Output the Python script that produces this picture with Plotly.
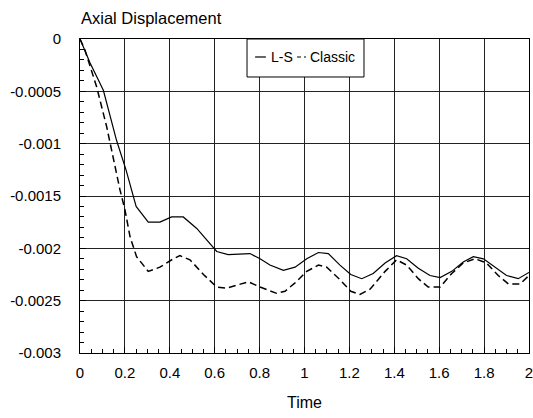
import plotly.graph_objects as go

t_ls = [0, 0.045, 0.104, 0.163, 0.205, 0.25, 0.304, 0.356, 0.408, 0.46, 0.52, 0.564, 0.609, 0.66,
        0.757, 0.802, 0.846, 0.906, 0.958, 1.01, 1.062, 1.106, 1.158, 1.206, 1.255, 1.306, 1.359,
        1.41, 1.455, 1.507, 1.559, 1.604, 1.656, 1.707, 1.752, 1.797, 1.849, 1.9, 1.952, 2.0]
v_ls = [0, -0.00023, -0.00049, -0.00097, -0.00125, -0.0016, -0.00175, -0.00175, -0.0017, -0.0017,
        -0.00181, -0.00192, -0.00203, -0.00206, -0.00205, -0.0021, -0.00216, -0.00221, -0.00218,
        -0.0021, -0.00204, -0.00205, -0.00216, -0.00225, -0.00229, -0.00224, -0.00214, -0.00207,
        -0.0021, -0.00219, -0.00226, -0.00228, -0.00222, -0.00213, -0.00208, -0.0021, -0.00218,
        -0.00226, -0.00229, -0.00223]

t_cl = [0, 0.022, 0.074, 0.119, 0.178, 0.2, 0.223, 0.252, 0.304, 0.356, 0.416, 0.445, 0.49, 0.55,
        0.609, 0.653, 0.75, 0.802, 0.876, 0.913, 0.958, 1.01, 1.062, 1.099, 1.158, 1.206, 1.247,
        1.292, 1.359, 1.41, 1.455, 1.507, 1.551, 1.604, 1.656, 1.707, 1.76, 1.811, 1.863, 1.908,
        1.96, 2.0]
v_cl = [0, -0.000105, -0.000456, -0.00084, -0.00144, -0.00163, -0.00189, -0.00208, -0.00222,
        -0.00218, -0.0021, -0.00207, -0.00211, -0.00225, -0.00237, -0.00238, -0.00232, -0.00237,
        -0.00243, -0.00241, -0.00233, -0.00222, -0.00216, -0.00218, -0.0023, -0.00241, -0.00244,
        -0.00239, -0.00222, -0.00211, -0.00216, -0.00229, -0.00237, -0.00237, -0.00224, -0.00214,
        -0.0021, -0.00214, -0.00226, -0.00234, -0.00234, -0.00226]

x_tickvals = [0, 0.2, 0.4, 0.6, 0.8, 1, 1.2, 1.4, 1.6, 1.8, 2]
x_ticktext = ["0", "0.2", "0.4", "0.6", "0.8", "1", "1.2", "1.4", "1.6", "1.8", "2"]
y_tickvals = [0, -0.0005, -0.001, -0.0015, -0.002, -0.0025, -0.003]
y_ticktext = ["0", "-0.0005", "-0.001", "-0.0015", "-0.002", "-0.0025", "-0.003"]

series_names = ["L-S", "Classic"]

font = "Liberation Sans, Arial, sans-serif"

fig = go.Figure()
fig.add_trace(go.Scatter(x=t_ls, y=v_ls, mode="lines", name=series_names[0],
                         line=dict(color="black", width=1.2)))
fig.add_trace(go.Scatter(x=t_cl, y=v_cl, mode="lines", name=series_names[1],
                         line=dict(color="black", width=1.5, dash="7px,4px")))

axis_common = dict(showline=True, linecolor="black", linewidth=1, mirror=True,
                   showgrid=True, gridcolor="#222", gridwidth=1, zeroline=False,
                   ticks="inside", ticklen=6, tickcolor="black", automargin=False,
                   ticklabeloverflow="allow",
                   tickfont=dict(family=font, size=15, color="black"))

fig.update_xaxes(range=[0, 2], tickvals=x_tickvals, ticktext=x_ticktext,
                 ticklabelstandoff=6,
                 title=dict(text="Time", font=dict(family=font, size=16, color="black"), standoff=16),
                 minor=dict(dtick=0.05, ticks="inside", ticklen=4, tickcolor="black", showgrid=False),
                 **axis_common)
fig.update_yaxes(range=[-0.003, 0], tickvals=y_tickvals, ticktext=y_ticktext,
                 ticklabelstandoff=15,
                 minor=dict(dtick=0.0001, ticks="inside", ticklen=4, tickcolor="black", showgrid=False),
                 **axis_common)

# manual legend (box, short line samples, labels) in paper coordinates
shapes = [
    dict(type="rect", xref="paper", yref="paper", x0=0.372, x1=0.6325, y0=0.879, y1=1.0,
         line=dict(color="black", width=1), fillcolor="white", layer="above"),
    dict(type="line", xref="paper", yref="paper", x0=0.390, x1=0.414, y0=0.9427, y1=0.9427,
         line=dict(color="black", width=1.2), layer="above"),
    dict(type="line", xref="paper", yref="paper", x0=0.4833, x1=0.5033, y0=0.9427, y1=0.9427,
         line=dict(color="black", width=1.2, dash="4px,3px"), layer="above"),
]

annotations = [
    dict(text="Axial Displacement", xref="paper", yref="paper",
         x=0, y=1, xanchor="left", yanchor="middle", yshift=21, xshift=-1,
         showarrow=False, font=dict(family=font, size=16.5, color="black")),
    dict(text=series_names[0], xref="paper", yref="paper", x=0.4209, y=0.9427,
         xanchor="left", yanchor="middle", showarrow=False,
         font=dict(family=font, size=14, color="black")),
    dict(text=series_names[1], xref="paper", yref="paper", x=0.5078, y=0.9427,
         xanchor="left", yanchor="middle", showarrow=False,
         font=dict(family=font, size=14, color="black")),
]

fig.update_layout(
    width=533, height=418,
    margin=dict(l=80, r=4, t=39, b=65, autoexpand=False),
    paper_bgcolor="white", plot_bgcolor="white",
    font=dict(family=font, color="black"),
    showlegend=False,
    shapes=shapes,
    annotations=annotations,
)

page_fix = ("document.documentElement.style.overflow='hidden';"
            "document.body.style.overflow='hidden';"
            "document.body.style.margin='0';")

fig.write_html("out.html", post_script=page_fix, config={"displayModeBar": False})
